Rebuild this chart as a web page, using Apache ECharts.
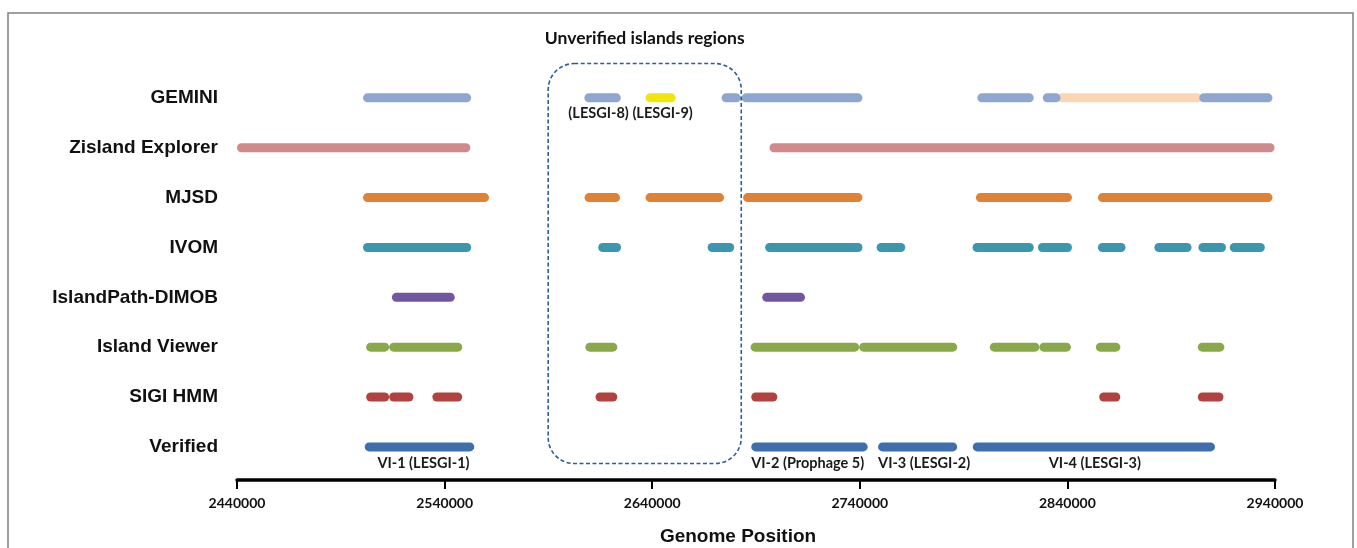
<!DOCTYPE html>
<html><head><meta charset="utf-8">
<script src="https://cdn.jsdelivr.net/npm/echarts@6/dist/echarts.min.js"></script>
<style>html,body{margin:0;padding:0;background:#fff}#c{width:1357px;height:548px}</style>
</head><body><div id="c"></div>
<script>
// ---------- data ----------
const rows = ['GEMINI','Zisland Explorer','MJSD','IVOM','IslandPath-DIMOB','Island Viewer','SIGI HMM','Verified'];
const xMin = 2440000, xMax = 2940000, xInterval = 100000;

const gemini = [[2500700,2552800],[2607300,2624900],[2673400,2682700],[2683000,2741300],[2796600,2823800],[2828100,2836700],[2903500,2938800]];
const geminiPeach = [[2835100,2904800]];
const geminiYellow = [[2636800,2651300]];
const zisland = [[2440000,2552400],[2696500,2939800]];
const mjsd = [[2500700,2561400],[2607400,2624500],[2636800,2674600],[2683800,2741300],[2795900,2842200],[2854700,2938800]];
const ivom = [[2500700,2552800],[2614000,2625000],[2666700,2679500],[2694400,2741300],[2748100,2761900],[2794300,2823800],[2825800,2842200],[2854700,2868000],[2881900,2899800],[2903100,2916400],[2918200,2935100]];
const islandPath = [[2514600,2544900],[2693000,2713600]];
const islandViewer = [[2502200,2513300],[2513300,2548500],[2607800,2623200],[2687400,2739700],[2739700,2786900],[2802600,2826500],[2826500,2841700],[2853700,2865500],[2902800,2915600]];
const sigiHmm = [[2502200,2513300],[2513300,2525000],[2534100,2548500],[2612700,2623200],[2687700,2700300],[2855300,2865500],[2902800,2915200]];
const verified = [[2501500,2554300],[2687700,2743800],[2748800,2786900],[2794400,2911100]];
const verifiedNames = ['VI-1 (LESGI-1)','VI-2 (Prophage 5)','VI-3 (LESGI-2)','VI-4 (LESGI-3)'];
const unverifiedNames = ['(LESGI-8)','(LESGI-9)'];
const unverifiedRegion = [2589900, 2682900];
const titleText = 'Unverified islands regions';
const xAxisName = 'Genome Position';

// ---------- build ----------
const tracks = [
  {d: geminiPeach, row: 0, color: '#FCD5B2'},
  {d: gemini, row: 0, color: '#8FA7D0'},
  {d: geminiYellow, row: 0, color: '#F2E40F'},
  {d: zisland, row: 1, color: '#D08A8C'},
  {d: mjsd, row: 2, color: '#E08235'},
  {d: ivom, row: 3, color: '#3C97AE'},
  {d: islandPath, row: 4, color: '#7157A0'},
  {d: islandViewer, row: 5, color: '#88A84A'},
  {d: sigiHmm, row: 6, color: '#B0423F'},
  {d: verified, row: 7, color: '#3E6EAB'}
];
const BAR_H = 9;
function barItem(params, api) {
  const s = api.coord([api.value(0), api.value(2)]);
  const e = api.coord([api.value(1), api.value(2)]);
  return {type: 'rect', shape: {x: s[0], y: s[1] - BAR_H/2, width: e[0] - s[0], height: BAR_H, r: BAR_H/2},
          style: {fill: api.visual('color')}};
}
const series = tracks.map(t => ({
  type: 'custom', renderItem: barItem, silent: true, animation: false,
  itemStyle: {color: t.color},
  encode: {x: [0, 1], y: 2},
  data: t.d.map(p => [p[0], p[1], t.row])
}));

// labels
const labelFont = 'bold 14.5px Lato';
const labels = [
  {x: (verified[0][0]+verified[0][1])/2, row: 7, text: verifiedNames[0], align: 'center', dx: 4, dy: 16},
  {x: verified[1][0], row: 7, text: verifiedNames[1], align: 'left', dx: 0, dy: 16},
  {x: verified[2][0], row: 7, text: verifiedNames[2], align: 'left', dx: 0, dy: 16},
  {x: (verified[3][0]+verified[3][1])/2, row: 7, text: verifiedNames[3], align: 'center', dx: 1, dy: 16},
  {x: (gemini[1][0]+gemini[1][1])/2, row: 0, text: unverifiedNames[0], align: 'center', dx: -4, dy: 15},
  {x: (geminiYellow[0][0]+geminiYellow[0][1])/2, row: 0, text: unverifiedNames[1], align: 'center', dx: 2, dy: 15}
];
series.push({
  type: 'custom', silent: true, animation: false, encode: {x: 0, y: 1},
  data: labels.map(l => [l.x, l.row]),
  renderItem(params, api) {
    const l = labels[params.dataIndex];
    const p = api.coord([api.value(0), api.value(1)]);
    return {type: 'text', x: p[0] + l.dx, y: p[1] + l.dy,
            style: {text: l.text, align: l.align, verticalAlign: 'middle', font: labelFont, fill: '#1a1a1a'}};
  }
});
// dashed unverified region box + title
series.push({
  type: 'custom', silent: true, animation: false, encode: {x: [0, 1], y: [2, 3]},
  data: [[unverifiedRegion[0], unverifiedRegion[1], -0.688, 7.334]],
  renderItem(params, api) {
    const a = api.coord([api.value(0), api.value(2)]);
    const b = api.coord([api.value(1), api.value(3)]);
    return {type: 'group', children: [
      {type: 'rect', shape: {x: a[0], y: a[1], width: b[0]-a[0], height: b[1]-a[1], r: 26},
       style: {fill: 'none', stroke: '#2F5C9C', lineWidth: 1.6, lineDash: [4, 2.5]}},
      {type: 'text', x: (a[0]+b[0])/2, y: a[1] - 25,
       style: {text: titleText, align: 'center', verticalAlign: 'middle', font: 'bold 17.5px Lato', fill: '#111'}}
    ]};
  }
});

const chart = echarts.init(document.getElementById('c'), null, {renderer: 'canvas'});
chart.setOption({
  backgroundColor: '#fff',
  animation: false,
  grid: {left: 237, right: 82, top: 48, height: 432},
  xAxis: {
    type: 'value', min: xMin, max: xMax, interval: xInterval,
    axisLine: {show: true, onZero: false, lineStyle: {color: '#000', width: 3.5}},
    axisTick: {show: true, length: 9, lineStyle: {color: '#000', width: 2}},
    axisLabel: {margin: 16, color: '#111', fontFamily: 'Lato', fontWeight: 'bold', fontSize: 14,
                formatter: v => String(v)},
    splitLine: {show: false}
  },
  yAxis: {
    type: 'value', inverse: true, min: -1, max: 7.664, interval: 1,
    axisLine: {show: false}, axisTick: {show: false}, splitLine: {show: false},
    axisLabel: {
      margin: 19, color: '#111', fontFamily: 'Liberation Sans', fontWeight: 'bold', fontSize: 19,
      formatter: v => (Number.isInteger(v) && rows[v]) ? rows[v] : ''
    }
  },
  graphic: [
    {type: 'rect', shape: {x: 8, y: 13, width: 1345, height: 560}, style: {fill: 'none', stroke: '#808080', lineWidth: 1.5}, silent: true},
    {type: 'text', x: 738, y: 537, style: {text: xAxisName, align: 'center', verticalAlign: 'middle', font: 'bold 19px "Liberation Sans"', fill: '#111'}, silent: true}
  ],
  series: series
});
</script>
</body></html>
